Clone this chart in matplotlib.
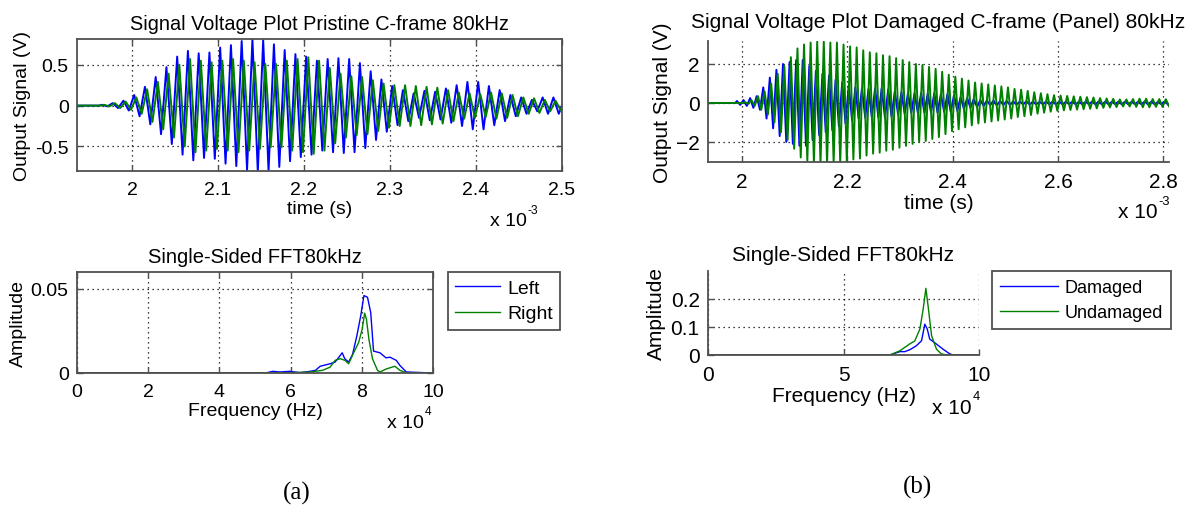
"""Signal voltage bursts and single-sided FFT, pristine vs damaged C-frame at 80 kHz."""

import matplotlib

matplotlib.use("Agg")
import matplotlib.pyplot as plt
import numpy as np

plt.rcParams["font.family"] = ["Liberation Sans", "DejaVu Sans"]
plt.rcParams["font.size"] = 14

BLUE = "#0000ff"
GREEN = "#008000"
SPINE = "#505050"
PERIOD_MS = 0.0125  # 80 kHz carrier, one cycle in ms

# ---- (a) pristine C-frame: per-cycle peak amplitude (V)
a_left_t0 = 1.965
a_left_amp = [0.01, 0.03, 0.06, 0.13, 0.23, 0.35, 0.47, 0.60, 0.67, 0.64,
              0.65, 0.71, 0.74, 0.79, 0.81, 0.80, 0.75, 0.68, 0.63, 0.60,
              0.55, 0.57, 0.58, 0.57, 0.52, 0.42, 0.32, 0.24, 0.19, 0.15,
              0.18, 0.17, 0.21, 0.25, 0.29, 0.29, 0.24, 0.19, 0.13, 0.10,
              0.07, 0.10, 0.10, 0.06]
a_right_t0 = 1.9675
a_right_amp = [0.01, 0.03, 0.05, 0.10, 0.20, 0.29, 0.39, 0.50, 0.57, 0.55,
               0.53, 0.55, 0.57, 0.55, 0.53, 0.51, 0.51, 0.55, 0.57, 0.59,
               0.55, 0.46, 0.39, 0.36, 0.35, 0.31, 0.27, 0.25, 0.25, 0.24,
               0.23, 0.22, 0.19, 0.16, 0.15, 0.14, 0.16, 0.15, 0.13, 0.10,
               0.09, 0.07, 0.06, 0.04]

# ---- (b) damaged C-frame (panel)
b_dam_t0 = 1.99
b_dam_amp = [0.10, 0.15, 0.25, 0.35, 0.80, 1.30, 1.70, 2.00, 2.10, 2.20,
             2.20, 1.90, 1.65, 1.50, 1.40, 1.20, 1.05, 0.90, 0.80, 0.75,
             0.72, 0.75, 0.75, 0.70, 0.60, 0.55, 0.50, 0.50, 0.50, 0.48,
             0.50, 0.45, 0.45, 0.40, 0.30, 0.25, 0.20, 0.15, 0.12, 0.12,
             0.10, 0.10, 0.08, 0.07, 0.08, 0.07, 0.06, 0.07, 0.08, 0.07,
             0.06, 0.07, 0.07, 0.06, 0.07, 0.08, 0.07, 0.06, 0.07, 0.07,
             0.06, 0.07, 0.08, 0.07, 0.06, 0.07]
b_und_t0 = 2.005
b_und_amp = [0.05, 0.15, 0.35, 0.60, 1.00, 1.50, 1.90, 2.35, 2.80, 3.00,
             3.10, 3.15, 3.15, 3.10, 3.10, 3.00, 2.90, 2.85, 2.70, 2.60,
             2.55, 2.45, 2.40, 2.30, 2.20, 2.10, 2.00, 1.95, 1.85, 1.75,
             1.60, 1.45, 1.35, 1.25, 1.15, 1.05, 1.00, 0.95, 0.90, 0.85,
             0.80, 0.72, 0.68, 0.62, 0.55, 0.50, 0.45, 0.40, 0.38, 0.36,
             0.34, 0.32, 0.30, 0.28, 0.25, 0.23, 0.21, 0.18, 0.18, 0.20,
             0.22, 0.22, 0.20, 0.20, 0.19, 0.18]

# ---- FFT curves, frequency in units of 1e4 Hz
fa_freq_left = [0, 5.3, 5.5, 5.7, 5.98, 6.26, 6.55, 6.7, 6.83, 7.11, 7.25, 7.45,
                7.52, 7.63, 7.74, 7.86, 7.97, 8.06, 8.16, 8.25, 8.33, 8.51,
                8.68, 8.79, 8.97, 9.07, 9.25, 10]
fa_amp_left = [0, 0, 0.0010, 0.0006, 0.0010, 0.0002, 0.0010, 0.0016, 0.0040,
               0.0055, 0.0065, 0.0120, 0.0085, 0.0065, 0.0110, 0.0220, 0.0340,
               0.0460, 0.0450, 0.0360, 0.0130, 0.0120, 0.0090, 0.0094, 0.0075,
               0.0045, 0.0006, 0]
fa_freq_right = [0, 5.5, 6.5, 6.9, 7.11, 7.25, 7.39, 7.53, 7.63, 7.77, 7.91,
                 8.01, 8.08, 8.13, 8.20, 8.30, 8.44, 8.51, 8.70, 8.93, 9.07,
                 9.26, 10]
fa_amp_right = [0, 0, 0.0005, 0.0016, 0.0035, 0.0075, 0.0085, 0.0075, 0.0055,
                0.0120, 0.0180, 0.0260, 0.0355, 0.0320, 0.0200, 0.0085,
                0.0016, 0.0006, 0.0025, 0.0040, 0.0016, 0, 0]

fb_freq_dam = [0, 6.71, 7.08, 7.26, 7.45, 7.69, 7.88, 8.00, 8.09, 8.18, 8.43,
               8.67, 8.92, 9.05, 10]
fb_amp_dam = [0, 0, 0.012, 0.012, 0.019, 0.033, 0.051, 0.110, 0.093, 0.057,
              0.039, 0.021, 0.004, 0, 0]
fb_freq_und = [0, 6.71, 7.08, 7.45, 7.63, 7.82, 7.94, 8.04, 8.12, 8.25, 8.43,
               8.61, 8.80, 10]
fb_amp_und = [0, 0, 0.015, 0.040, 0.050, 0.093, 0.164, 0.238, 0.176, 0.069,
              0.021, 0.004, 0, 0]


def burst(t0, amps, t_from):
    """Peaks at t0 + k*T, troughs half a cycle later; flat before the burst."""
    amps = np.asarray(amps, dtype=float)
    tp = t0 + np.arange(len(amps)) * PERIOD_MS
    t = np.empty(2 * len(amps))
    y = np.empty(2 * len(amps))
    t[0::2] = tp
    t[1::2] = tp + PERIOD_MS / 2
    y[0::2] = amps
    y[1::2] = -amps
    t = np.concatenate([[t_from, t0 - PERIOD_MS / 4], t])
    y = np.concatenate([[0.0, 0.0], y])
    return t, y


def style(ax, box=True, size=14):
    for side in ("left", "bottom", "top", "right"):
        ax.spines[side].set_color(SPINE)
        ax.spines[side].set_linewidth(1.3)
    if not box:
        ax.spines["top"].set_visible(False)
        ax.spines["right"].set_visible(False)
    ax.tick_params(direction="in", length=4, width=1.0, color=SPINE,
                   top=box, right=box, pad=7, labelsize=size)
    ax.tick_params(axis="y", pad=6)
    ax.grid(True, color="black", linestyle=(0, (1, 3)), linewidth=0.9)
    ax.set_axisbelow(True)


def px(x, y):
    return x / 1192, 1 - y / 510


def mult_label(fig, x, y, base, power, size=14):
    txt = fig.text(*px(x, y), base, ha="left", va="center", fontsize=size)
    bb = txt.get_window_extent(renderer=fig.canvas.get_renderer())
    fig.text(*px(x + bb.width + 1, y - 11), power, ha="left", va="center",
             fontsize=size * 0.62)


fig = plt.figure(figsize=(11.92, 5.10), dpi=100)

# ---------------- panel (a) time signal
ax1 = fig.add_axes([77 / 1192, 1 - 172 / 510, 485 / 1192, 132 / 510])
t, y = burst(a_left_t0, a_left_amp, 1.93)
ax1.plot(t, y, color=BLUE, lw=1.4)
t, y = burst(a_right_t0, a_right_amp, 1.93)
ax1.plot(t, y, color=GREEN, lw=1.4)
ax1.set_xlim(1.936, 2.5)
ax1.set_ylim(-0.8, 0.815)
ax1.set_xticks([2.0, 2.1, 2.2, 2.3, 2.4, 2.5])
ax1.set_xticklabels(["2", "2.1", "2.2", "2.3", "2.4", "2.5"])
ax1.set_yticks([-0.5, 0, 0.5])
ax1.set_yticklabels(["-0.5", "0", "0.5"])
style(ax1)
ax1.set_title("Signal Voltage Plot Pristine C-frame 80kHz", pad=7,
              fontsize=14.3)
ax1.set_xlabel("time (s)", labelpad=2)
ax1.set_ylabel("Output Signal (V)", labelpad=3)
mult_label(fig, 490, 222, "x 10", "-3")

# ---------------- panel (a) FFT
ax2 = fig.add_axes([77 / 1192, 1 - 374 / 510, 356 / 1192, 101 / 510])
ax2.plot(fa_freq_left, fa_amp_left, color=BLUE, lw=1.0, label="Left")
ax2.plot(fa_freq_right, fa_amp_right, color=GREEN, lw=1.0, label="Right")
ax2.set_xlim(0, 10)
ax2.set_ylim(0, 0.06)
ax2.set_xticks([0, 2, 4, 6, 8, 10])
ax2.set_yticks([0, 0.05])
ax2.set_yticklabels(["0", "0.05"])
style(ax2)
ax2.set_title("Single-Sided FFT80kHz", pad=7, fontsize=14.5)
ax2.set_xlabel("Frequency (Hz)", labelpad=2)
ax2.set_ylabel("Amplitude", labelpad=3)
leg = ax2.legend(loc="upper left", bbox_to_anchor=px(448, 273),
                 bbox_transform=fig.transFigure, borderaxespad=0,
                 handlelength=2.3, handletextpad=0.35, borderpad=0.38,
                 labelspacing=0.4, fancybox=False, framealpha=1, fontsize=14)
leg.get_frame().set_edgecolor(SPINE)
leg.get_frame().set_linewidth(1.3)
mult_label(fig, 387, 423, "x 10", "4")

# ---------------- panel (b) time signal
ax3 = fig.add_axes([708 / 1192, 1 - 163 / 510, 461 / 1192, 121 / 510])
t, y = burst(b_dam_t0, b_dam_amp, 1.93)
ax3.plot(t, y, color=BLUE, lw=1.4)
t, y = burst(b_und_t0, b_und_amp, 1.93)
ax3.plot(t, y, color=GREEN, lw=1.4)
ax3.set_xlim(1.935, 2.811)
ax3.set_ylim(-3.03, 3.18)
ax3.set_xticks([2.0, 2.2, 2.4, 2.6, 2.8])
ax3.set_xticklabels(["2", "2.2", "2.4", "2.6", "2.8"])
ax3.set_yticks([-2, 0, 2])
style(ax3, box=False, size=15)
ax3.set_title("Signal Voltage Plot Damaged C-frame (Panel) 80kHz", pad=10,
              fontsize=15.1)
ax3.set_xlabel("time (s)", labelpad=2, fontsize=15)
ax3.set_ylabel("Output Signal (V)", labelpad=3, fontsize=15)
mult_label(fig, 1118, 213, "x 10", "-3", size=15)

# ---------------- panel (b) FFT
ax4 = fig.add_axes([708 / 1192, 1 - 356 / 510, 271 / 1192, 84 / 510])
ax4.plot(fb_freq_dam, fb_amp_dam, color=BLUE, lw=1.0, label="Damaged")
ax4.plot(fb_freq_und, fb_amp_und, color=GREEN, lw=1.0, label="Undamaged")
ax4.set_xlim(0, 10)
ax4.set_ylim(0, 0.3)
ax4.set_xticks([0, 5, 10])
ax4.set_yticks([0, 0.1, 0.2])
ax4.set_yticklabels(["0", "0.1", "0.2"])
style(ax4, box=False, size=15)
ax4.set_title("Single-Sided FFT80kHz", pad=8, fontsize=15)
ax4.set_xlabel("Frequency (Hz)", labelpad=2, fontsize=15)
ax4.set_ylabel("Amplitude", labelpad=3, fontsize=15)
leg = ax4.legend(loc="upper left", bbox_to_anchor=px(992, 272),
                 bbox_transform=fig.transFigure, borderaxespad=0,
                 handlelength=3.2, handletextpad=0.35, borderpad=0.45,
                 labelspacing=0.45, fancybox=False, framealpha=1, fontsize=13)
leg.get_frame().set_edgecolor(SPINE)
leg.get_frame().set_linewidth(1.3)
mult_label(fig, 932, 408, "x 10", "4", size=15)

# sub-figure captions
fig.text(*px(297, 493), "(a)", ha="center", va="center",
         family=["Liberation Serif", "DejaVu Serif"], fontsize=18)
fig.text(*px(918, 487), "(b)", ha="center", va="center",
         family=["Liberation Serif", "DejaVu Serif"], fontsize=18)

fig.savefig("out.png", dpi=100, facecolor="white")
